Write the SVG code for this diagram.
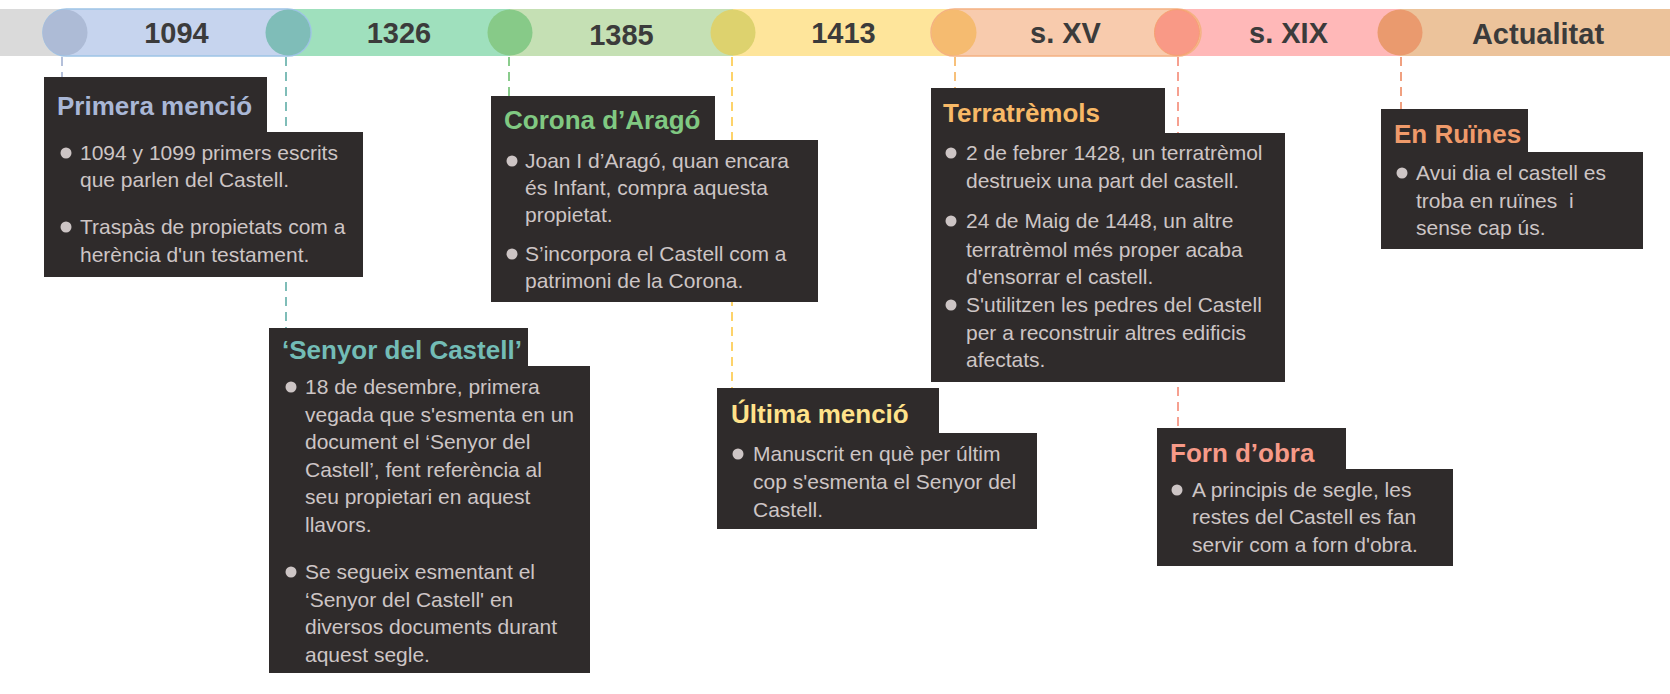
<svg xmlns="http://www.w3.org/2000/svg" width="1670" height="694" viewBox="0 0 1670 694">
<style>
.lbl{font-family:"Liberation Sans",Arial,sans-serif;font-weight:bold;font-size:29px;fill:#3b3b3b;text-anchor:middle}
.box{fill:#2f2b2b}
.ttl{font-family:"Liberation Sans",Arial,sans-serif;font-weight:bold;font-size:26px}
.txt{font-family:"Liberation Sans",Arial,sans-serif;font-size:21px;fill:#cdc5c5}
.bul{fill:#cdc5c5}
.dash{fill:none;stroke-width:2;stroke-dasharray:9 6}
</style>
<rect width="1670" height="694" fill="#ffffff"/>
<g id="timeline-bar">
  <rect x="0" y="9" width="70" height="47" fill="#dadada"/>
  <rect x="288" y="9" width="222" height="47" fill="#9fe0bd"/>
  <rect x="510" y="9" width="223" height="47" fill="#c5e0b4"/>
  <rect x="733" y="9" width="221" height="47" fill="#fee59b"/>
  <rect x="1177" y="9" width="223" height="47" fill="#ffb8b8"/>
  <rect x="1400" y="9" width="270" height="47" fill="#ecc39b"/>
  <rect x="43" y="9" width="268" height="47" rx="23.5" fill="#c6d4ee" stroke="#9dc3e6" stroke-width="1.5"/>
  <rect x="931" y="9" width="270" height="47" rx="23.5" fill="#f8cbad" stroke="#f4b183" stroke-width="1.5"/>
  <ellipse cx="65" cy="32.5" rx="22.5" ry="23" fill="#adbbd6"/>
  <ellipse cx="288" cy="32.5" rx="22.5" ry="23" fill="#7fbdb8"/>
  <ellipse cx="510" cy="32.5" rx="22.5" ry="23" fill="#87ca88"/>
  <ellipse cx="733" cy="32.5" rx="22.5" ry="23" fill="#ddd26e"/>
  <ellipse cx="954" cy="32.5" rx="22.5" ry="23" fill="#f5bb70"/>
  <ellipse cx="1177" cy="32.5" rx="22.5" ry="23" fill="#f99986" stroke="#f7a070" stroke-width="1"/>
  <ellipse cx="1400" cy="32.5" rx="22.5" ry="23" fill="#ea9a6e"/>
  <text class="lbl" x="176.5" y="43">1094</text>
  <text class="lbl" x="399" y="43">1326</text>
  <text class="lbl" x="621.5" y="45">1385</text>
  <text class="lbl" x="843.5" y="43">1413</text>
  <text class="lbl" x="1065.5" y="43">s. XV</text>
  <text class="lbl" x="1288.5" y="43">s. XIX</text>
  <text class="lbl" x="1538" y="44">Actualitat</text>
</g>
<g id="connectors">
  <line class="dash" x1="62" y1="57" x2="62" y2="77" stroke="#b4c0da"/>
  <line class="dash" x1="286" y1="57" x2="286" y2="328" stroke="#7fbdb8"/>
  <line class="dash" x1="509" y1="57" x2="509" y2="96" stroke="#8acc8c"/>
  <line class="dash" x1="732" y1="57" x2="732" y2="388" stroke="#fdd36a"/>
  <line class="dash" x1="955" y1="57" x2="955" y2="88" stroke="#f7c07a"/>
  <line class="dash" x1="1178" y1="57" x2="1178" y2="428" stroke="#f6a090"/>
  <line class="dash" x1="1401" y1="57" x2="1401" y2="109" stroke="#f0a080"/>
</g>
<g id="primera-mencio">
  <path class="box" d="M44,77 H267 V132 H363 V277 H44 Z"/>
  <text class="ttl" x="57" y="115" fill="#a9b7d6">Primera menció</text>
  <circle class="bul" cx="66" cy="153" r="5.5"/>
  <text class="txt" x="80" y="160">1094 y 1099 primers escrits</text>
  <text class="txt" x="80" y="187">que parlen del Castell.</text>
  <circle class="bul" cx="66" cy="227" r="5.5"/>
  <text class="txt" x="80" y="234">Traspàs de propietats com a</text>
  <text class="txt" x="80" y="262">herència d'un testament.</text>
</g>
<g id="senyor-del-castell">
  <path class="box" d="M269,328 H528 V366 H590 V673 H269 Z"/>
  <text class="ttl" x="282" y="359" fill="#73bcb6">‘Senyor del Castell’</text>
  <circle class="bul" cx="291" cy="387" r="5.5"/>
  <text class="txt" x="305" y="394">18 de desembre, primera</text>
  <text class="txt" x="305" y="422">vegada que s'esmenta en un</text>
  <text class="txt" x="305" y="449">document el ‘Senyor del</text>
  <text class="txt" x="305" y="477">Castell’, fent referència al</text>
  <text class="txt" x="305" y="504">seu propietari en aquest</text>
  <text class="txt" x="305" y="532">llavors.</text>
  <circle class="bul" cx="291" cy="572" r="5.5"/>
  <text class="txt" x="305" y="579">Se segueix esmentant el</text>
  <text class="txt" x="305" y="607">‘Senyor del Castell' en</text>
  <text class="txt" x="305" y="634">diversos documents durant</text>
  <text class="txt" x="305" y="662">aquest segle.</text>
</g>
<g id="corona-arago">
  <path class="box" d="M491,96 H715 V140 H818 V302 H491 Z"/>
  <text class="ttl" x="504" y="129" fill="#80c982">Corona d’Aragó</text>
  <circle class="bul" cx="512" cy="161" r="5.5"/>
  <text class="txt" x="525" y="168">Joan I d’Aragó, quan encara</text>
  <text class="txt" x="525" y="195">és Infant, compra aquesta</text>
  <text class="txt" x="525" y="222">propietat.</text>
  <circle class="bul" cx="512" cy="254" r="5.5"/>
  <text class="txt" x="525" y="261">S’incorpora el Castell com a</text>
  <text class="txt" x="525" y="288">patrimoni de la Corona.</text>
</g>
<g id="ultima-mencio">
  <path class="box" d="M717,388 H939 V433 H1037 V529 H717 Z"/>
  <text class="ttl" x="731" y="423" fill="#ffe28a">Última menció</text>
  <circle class="bul" cx="738" cy="454" r="5.5"/>
  <text class="txt" x="753" y="461">Manuscrit en què per últim</text>
  <text class="txt" x="753" y="489">cop s'esmenta el Senyor del</text>
  <text class="txt" x="753" y="517">Castell.</text>
</g>
<g id="terratremols">
  <path class="box" d="M931,88 H1165 V133 H1285 V382 H931 Z"/>
  <text class="ttl" x="943" y="122" fill="#f8b967">Terratrèmols</text>
  <circle class="bul" cx="951" cy="153" r="5.5"/>
  <text class="txt" x="966" y="160">2 de febrer 1428, un terratrèmol</text>
  <text class="txt" x="966" y="188">destrueix una part del castell.</text>
  <circle class="bul" cx="951" cy="221" r="5.5"/>
  <text class="txt" x="966" y="228">24 de Maig de 1448, un altre</text>
  <text class="txt" x="966" y="257">terratrèmol més proper acaba</text>
  <text class="txt" x="966" y="284">d'ensorrar el castell.</text>
  <circle class="bul" cx="951" cy="305" r="5.5"/>
  <text class="txt" x="966" y="312">S'utilitzen les pedres del Castell</text>
  <text class="txt" x="966" y="340">per a reconstruir altres edificis</text>
  <text class="txt" x="966" y="367">afectats.</text>
</g>
<g id="forn-obra">
  <path class="box" d="M1157,428 H1346 V469 H1453 V566 H1157 Z"/>
  <text class="ttl" x="1170" y="462" fill="#f79a88">Forn d’obra</text>
  <circle class="bul" cx="1177" cy="490" r="5.5"/>
  <text class="txt" x="1192" y="497">A principis de segle, les</text>
  <text class="txt" x="1192" y="524">restes del Castell es fan</text>
  <text class="txt" x="1192" y="552">servir com a forn d'obra.</text>
</g>
<g id="en-ruines">
  <path class="box" d="M1381,109 H1528 V152 H1643 V249 H1381 Z"/>
  <text class="ttl" x="1394" y="143" fill="#ef9a6a">En Ruïnes</text>
  <circle class="bul" cx="1402" cy="173" r="5.5"/>
  <text class="txt" x="1416" y="180">Avui dia el castell es</text>
  <text class="txt" x="1416" y="208" style="white-space:pre">troba en ruïnes  i</text>
  <text class="txt" x="1416" y="235">sense cap ús.</text>
</g>
</svg>
